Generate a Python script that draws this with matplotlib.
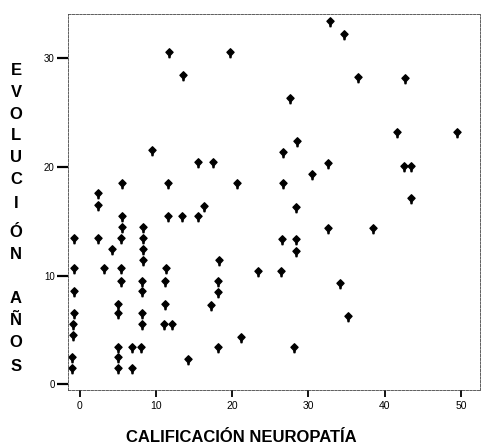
import numpy as np
import matplotlib
matplotlib.use('Agg')
import matplotlib.pyplot as plt
from matplotlib.path import Path

# calificacion de neuropatia (x) y evolucion en anos (y)
neuropatia = [32.8, 34.7, 11.7, 19.7, 13.6, 36.5, 42.7, 27.6, 41.6, 49.5,
              28.5, 9.5, 26.7, 15.5, 17.5, 32.6, 42.5, 43.4, 30.5, 2.4,
              5.6, 11.6, 20.6, 26.7, 2.4, 16.3, 28.4, 43.4, 5.6, 11.6,
              13.4, 15.5, 32.6, 38.5, 5.6, 8.3, -0.7, 2.4, 5.4, 8.3,
              26.5, 28.4, 4.2, 8.3, 28.4, 8.3, 18.3, -0.7, 3.2, 5.4,
              11.3, 23.4, 26.4, 5.4, 8.2, 11.2, 18.1, 34.1, -0.7, 8.2,
              18.1, 17.2, 5.0, 11.2, -0.7, 5.0, 8.2, 35.2, -0.9, 8.2,
              11.1, 12.1, -0.9, 21.2, 5.0, 6.9, 8.0, 18.1, 28.1, -1.0,
              5.0, 14.2, -1.0, 5.0, 6.9]
evolucion = [33.5, 32.3, 30.6, 30.6, 28.5, 28.3, 28.2, 26.4, 23.2, 23.2,
             22.4, 21.6, 21.4, 20.5, 20.5, 20.4, 20.1, 20.1, 19.4, 17.6,
             18.5, 18.5, 18.5, 18.5, 16.5, 16.4, 16.3, 17.1, 15.5, 15.5,
             15.5, 15.5, 14.4, 14.4, 14.5, 14.5, 13.5, 13.5, 13.5, 13.5,
             13.4, 13.4, 12.4, 12.4, 12.3, 11.4, 11.4, 10.7, 10.7, 10.7,
             10.7, 10.4, 10.4, 9.5, 9.5, 9.5, 9.5, 9.3, 8.6, 8.6,
             8.5, 7.3, 7.4, 7.4, 6.5, 6.5, 6.5, 6.3, 5.5, 5.5,
             5.5, 5.5, 4.5, 4.3, 3.4, 3.4, 3.4, 3.4, 3.4, 2.5,
             2.5, 2.3, 1.5, 1.5, 1.5]

xticks = [0, 10, 20, 30, 40, 50]
yticks = [0, 10, 20, 30]
xlabel = 'CALIFICACIÓN NEUROPATÍA'
ylabel = 'EVOLUCIÓN AÑOS'

bold_font = ['Liberation Sans Narrow', 'Liberation Sans', 'DejaVu Sans']
plt.rcParams['font.family'] = ['Liberation Sans', 'DejaVu Sans']

# marcador: rombo con un pequeño tallo debajo
marker_path = Path([(0, 1), (0.95, 0.05), (0.2, -0.75), (0.13, -1.4),
                    (-0.13, -1.4), (-0.2, -0.75), (-0.95, 0.05), (0, 1)],
                   [Path.MOVETO] + [Path.LINETO] * 6 + [Path.CLOSEPOLY])

W, H = 482, 446
fig = plt.figure(figsize=(W / 100, H / 100), dpi=100)
ax = fig.add_axes([68 / W, 56 / H, 412 / W, 376 / H])

ax.plot(neuropatia, evolucion, linestyle='none', marker=marker_path,
        markersize=7.5, color='black')

ax.set_xlim(-1.52, 52.5)
ax.set_ylim(-0.55, 34.1)
ax.set_xticks(xticks)
ax.set_yticks(yticks)
ax.tick_params(axis='y', length=8, width=1.6, pad=1.5, labelsize=7)
ax.tick_params(axis='x', length=5, width=1.3, pad=3, labelsize=7.5)

for side in ['left', 'right', 'top', 'bottom']:
    ax.spines[side].set_linestyle((0, (3, 1.5)))
    ax.spines[side].set_linewidth(0.6)
    ax.spines[side].set_color('#444444')

# etiqueta del eje y, letra por letra en vertical
letters = [c for c in ylabel if c != ' ']
baselines = [75, 97, 119, 140, 162, 184, 208, 237, 259, 303, 325, 347, 371]
for ch, b in zip(letters, baselines):
    fig.text(16 / W, 1 - b / H, ch, ha='center', va='baseline',
             fontsize=12, fontweight='bold', family=bold_font)

fig.text(241 / W, 1 - 442 / H, xlabel, ha='center', va='baseline',
         fontsize=12, fontweight='bold', family=bold_font)

fig.savefig('out.png', dpi=100)
